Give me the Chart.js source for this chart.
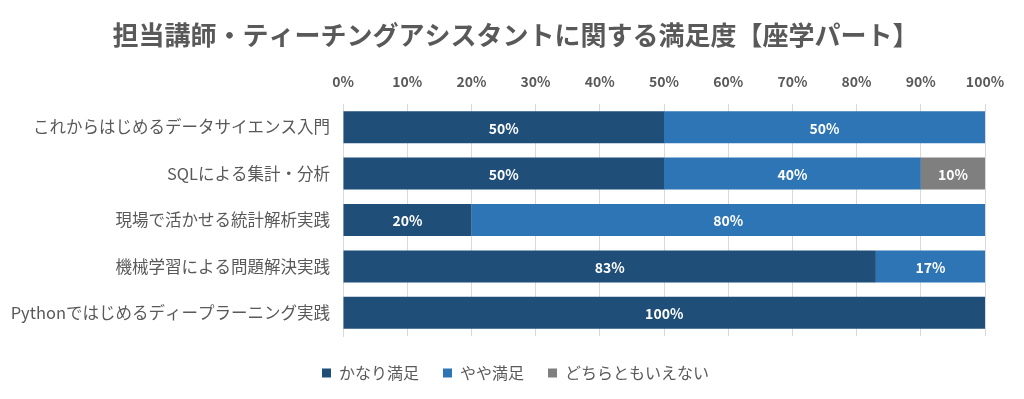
<!DOCTYPE html>
<html>
<head>
<meta charset="utf-8">
<script src="https://cdn.jsdelivr.net/npm/chart.js@4"></script>
<style>
  html, body { margin: 0; padding: 0; background: #fff; }
  #wrap { width: 1024px; height: 399px; }
</style>
</head>
<body>
<div id="wrap"><canvas id="myChart" width="1024" height="399"></canvas></div>
<script>
// chart values
const chartTitle = '担当講師・ティーチングアシスタントに関する満足度【座学パート】';
const categories = [
    'これからはじめるデータサイエンス入門',
    'SQLによる集計・分析',
    '現場で活かせる統計解析実践',
    '機械学習による問題解決実践',
    'Pythonではじめるディープラーニング実践'
];
const seriesNames = ['かなり満足', 'やや満足', 'どちらともいえない'];
const verySatisfied = [50, 50, 20, 83, 100];
const fairlySatisfied = [50, 40, 80, 17, 0];
const neutral = [0, 10, 0, 0, 0];
const seriesColors = ['#1F4E79', '#2E75B6', '#7F7F7F'];

const font = '"Noto Sans CJK JP", "Noto Sans", sans-serif';
const textGray = '#595959';

// draws the percentage inside each bar segment
const barLabels = {
    id: 'barLabels',
    afterDatasetsDraw(chart) {
        const c = chart.ctx;
        c.save();
        c.font = 'bold 14px ' + font;
        c.fillStyle = '#ffffff';
        c.textAlign = 'center';
        c.textBaseline = 'middle';
        chart.data.datasets.forEach((ds, i) => {
            const meta = chart.getDatasetMeta(i);
            meta.data.forEach((bar, j) => {
                const v = ds.data[j];
                if (!v) return;
                c.fillText(v + '%', (bar.x + bar.base) / 2, bar.y + 1);
            });
        });
        c.restore();
    }
};

// title and legend sit centred on the page in the excel chart, not on the layout box
const blockNudge = {
    id: 'blockNudge',
    afterLayout(chart) {
        chart.titleBlock.left += 23;
        chart.titleBlock.right += 23;
        chart.legend.left += 23;
        chart.legend.right += 23;
        chart.legend.top += 5;
        chart.legend.bottom += 5;
    }
};

const ctx = document.getElementById('myChart').getContext('2d');
new Chart(ctx, {
    type: 'bar',
    data: {
        labels: categories,
        datasets: [
            { label: seriesNames[0], data: verySatisfied, backgroundColor: seriesColors[0] },
            { label: seriesNames[1], data: fairlySatisfied, backgroundColor: seriesColors[1] },
            { label: seriesNames[2], data: neutral, backgroundColor: seriesColors[2] }
        ]
    },
    options: {
        indexAxis: 'y',
        responsive: false,
        maintainAspectRatio: false,
        animation: false,
        barPercentage: 0.69,
        categoryPercentage: 1,
        layout: { padding: { left: 0, right: 39, top: 10, bottom: 13 } },
        plugins: {
            title: {
                display: true,
                text: chartTitle,
                color: textGray,
                font: { family: font, size: 26, weight: 'bold' },
                padding: { top: 10, bottom: 8 }
            },
            legend: {
                position: 'bottom',
                labels: {
                    color: textGray,
                    font: { family: font, size: 16 },
                    boxWidth: 9,
                    boxHeight: 9,
                    padding: 24
                }
            },
            tooltip: { enabled: false }
        },
        scales: {
            x: {
                position: 'top',
                stacked: true,
                min: 0,
                max: 100,
                grid: { color: '#D9D9D9', drawTicks: false },
                border: { display: false },
                ticks: {
                    stepSize: 10,
                    padding: 14,
                    color: textGray,
                    font: { family: font, size: 14, weight: 'bold' },
                    callback: (v) => v + '%'
                }
            },
            y: {
                stacked: true,
                grid: { display: false, drawTicks: false },
                border: { color: '#D9D9D9' },
                afterFit: (axis) => { axis.width = 343; },
                ticks: {
                    padding: 13,
                    color: textGray,
                    font: { family: font, size: 16.5 }
                }
            }
        }
    },
    plugins: [barLabels, blockNudge]
});
</script>
</body>
</html>
